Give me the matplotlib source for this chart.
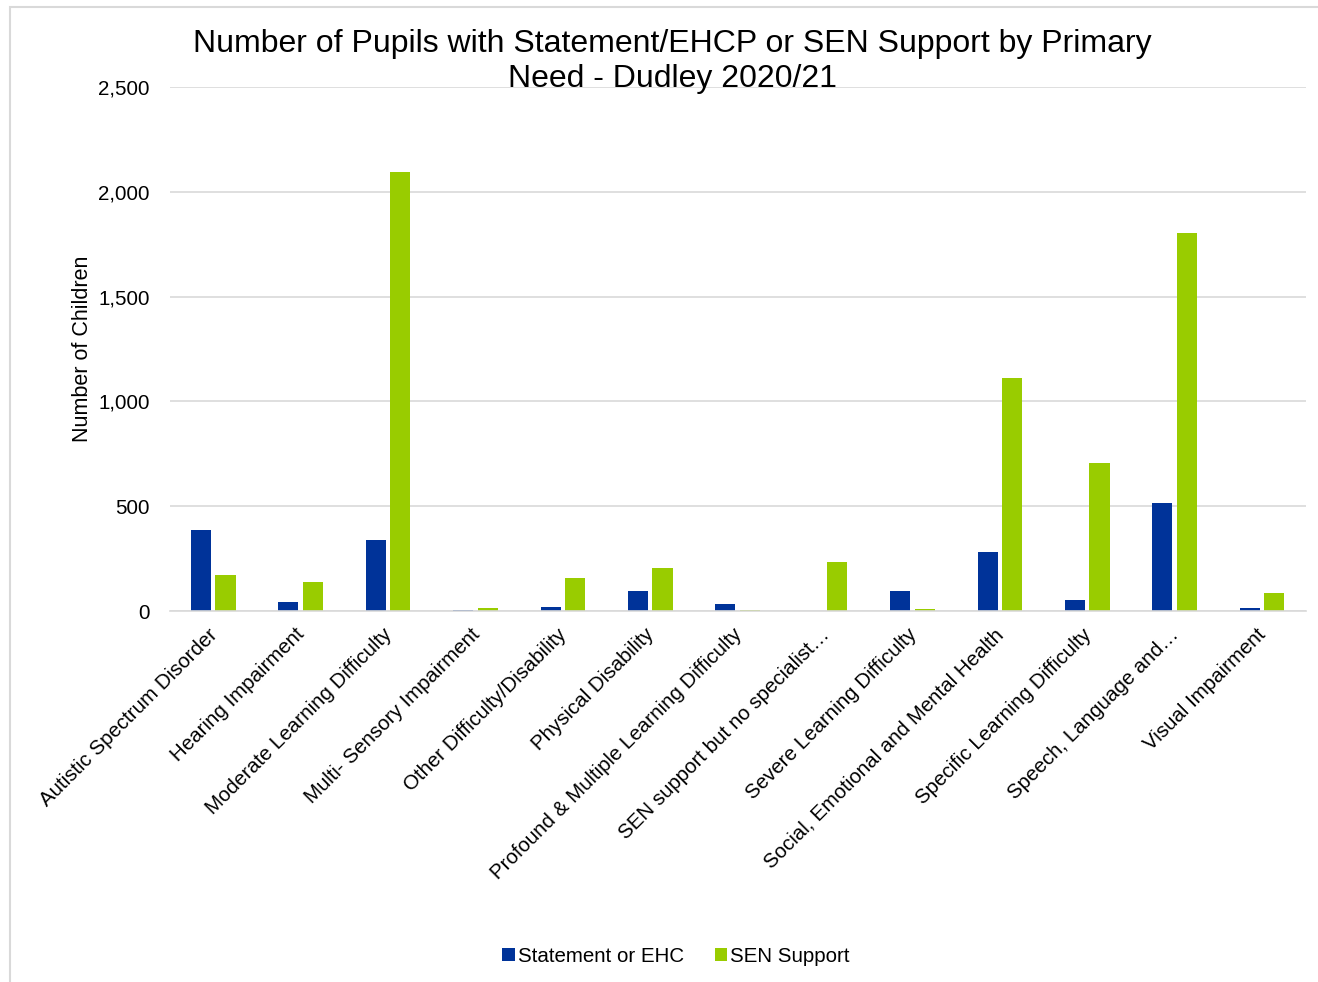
import numpy as np
import matplotlib.pyplot as plt
from matplotlib.patches import Rectangle
from matplotlib.ticker import FuncFormatter
from matplotlib.transforms import ScaledTranslation

plt.rcParams['font.family'] = ['Liberation Sans', 'DejaVu Sans']

needs = [
    'Autistic Spectrum Disorder',
    'Hearing Impairment',
    'Moderate Learning Difficulty',
    'Multi- Sensory Impairment',
    'Other Difficulty/Disability',
    'Physical Disability',
    'Profound & Multiple Learning Difficulty',
    'SEN support but no specialist…',
    'Severe Learning Difficulty',
    'Social, Emotional and Mental Health',
    'Specific Learning Difficulty',
    'Speech, Language and…',
    'Visual Impairment',
]
statement_ehc = [386, 41, 339, 5, 18, 95, 33, 0, 95, 281, 54, 514, 14]
sen_support = [171, 137, 2094, 14, 156, 205, 5, 234, 9, 1112, 706, 1803, 84]

fig = plt.figure(figsize=(13.18, 9.82), dpi=100)
ax = fig.add_axes([0.129, 0.3778, 0.862, 0.5336])

# light frame round the whole chart area
fig.patches.append(Rectangle((10 / 1318, -0.05), 1.1, 1 - 7 / 982 + 0.05,
                             transform=fig.transFigure, fill=False,
                             edgecolor='#d9d9d9', linewidth=1.5))

x = np.arange(len(needs))
w = 0.23
ax.bar(x - 0.145, statement_ehc, w, color='#003399', label='Statement or EHC')
ax.bar(x + 0.135, sen_support, w, color='#99cc00', label='SEN Support')

ax.set_xlim(-0.5, len(needs) - 0.5)
ax.set_ylim(0, 2500)
ax.set_yticks(range(0, 2501, 500))
ax.yaxis.set_major_formatter(FuncFormatter(lambda v, p: f'{int(v):,}'))
ax.grid(axis='y', color='#d9d9d9', linewidth=1.2)
ax.set_axisbelow(True)
for s in ['top', 'right', 'left']:
    ax.spines[s].set_visible(False)
ax.spines['bottom'].set_color('#d9d9d9')
ax.spines['bottom'].set_linewidth(1.2)
ax.tick_params(axis='both', length=0, labelsize=14.8, colors='#000000')
ax.tick_params(axis='y', pad=14.5)

ax.set_xticks(x)
ax.set_xticklabels(needs, rotation=45, ha='right', rotation_mode='anchor')
ax.tick_params(axis='x', pad=10)
shift = ScaledTranslation(-6 / 100, 0, fig.dpi_scale_trans)
for lbl in ax.get_xticklabels():
    lbl.set_transform(lbl.get_transform() + shift)

ax.set_ylabel('Number of Children', fontsize=15.5, labelpad=4)

fig.text(0.51, 0.937, 'Number of Pupils with Statement/EHCP or SEN Support by Primary\nNeed - Dudley 2020/21',
         ha='center', va='center', fontsize=23, linespacing=1.22)

fig.legend(loc='center', bbox_to_anchor=(0.513, 0.026), ncol=2, frameon=False,
           fontsize=14.8, handlelength=0.6, handleheight=0.6, handletextpad=0.15,
           columnspacing=1.5)

fig.savefig('out.png', dpi=100)
